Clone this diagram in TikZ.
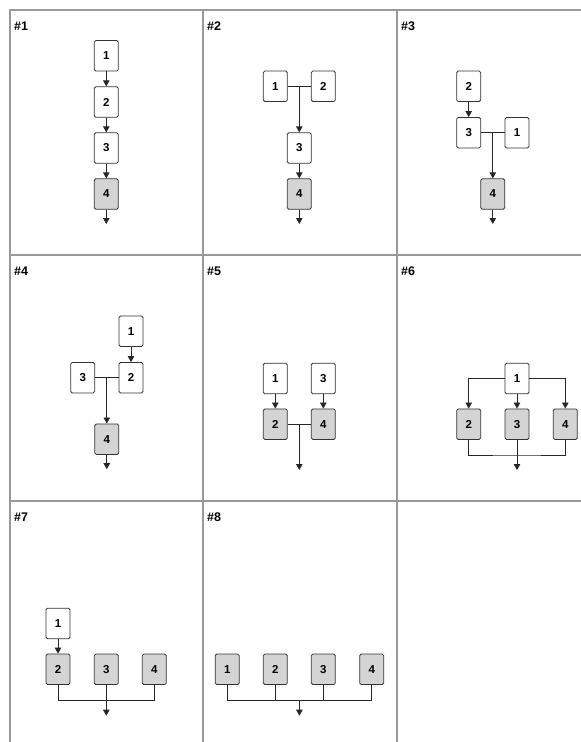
\documentclass[tikz,border=0pt]{standalone}
\usepackage{fontspec}
\setmainfont{Liberation Sans}
\usetikzlibrary{arrows.meta}
\begin{document}
\begin{tikzpicture}[x=1pt,y=-1pt,
  grid/.style={draw=black!40,line width=1.6pt},
  box/.style={draw=black!80,line width=0.8pt,rounded corners=1.5pt,minimum width=24pt,minimum height=30.5pt,inner sep=0pt,fill=white,font=\bfseries\fontsize{11.5}{13}\selectfont},
  sbox/.style={box,fill=black!17},
  conn/.style={draw=black!85,line width=0.8pt},
  arr/.style={conn,-{Triangle[width=6.5pt,length=6pt]}},
  lbl/.style={anchor=west,inner sep=0pt,font=\bfseries\fontsize{12.5}{14}\selectfont}]
\useasboundingbox (0,0) rectangle (581,742);
% grid
\draw[grid] (10,742) -- (10,10) -- (581,10);
\draw[grid] (203,10) -- (203,742);
\draw[grid] (397,10) -- (397,742);
\draw[grid] (10,255) -- (581,255);
\draw[grid] (10,501) -- (581,501);
% labels
\node[lbl] (l1) at (14,26) {\#1};
\node[lbl] (l2) at (207,26) {\#2};
\node[lbl] (l3) at (401,26) {\#3};
\node[lbl] (l4) at (14,271) {\#4};
\node[lbl] (l5) at (207,271) {\#5};
\node[lbl] (l6) at (401,271) {\#6};
\node[lbl] (l7) at (14,517) {\#7};
\node[lbl] (l8) at (207,517) {\#8};
% cell 1
\node[box] (a1) at (106.3,55.8) {1};
\node[box] (a2) at (106.3,102) {2};
\node[box] (a3) at (106.3,148) {3};
\node[sbox] (a4) at (106.3,194) {4};
\coordinate (aout) at (106.3,224);
\draw[arr] (a1) -- (a2);
\draw[arr] (a2) -- (a3);
\draw[arr] (a3) -- (a4);
\draw[arr] (a4) -- (aout);
% cell 2
\node[box] (b1) at (275.3,86.3) {1};
\node[box] (b2) at (323.3,86.3) {2};
\node[box] (b3) at (299.3,148) {3};
\node[sbox] (b4) at (299.3,194) {4};
\coordinate (bj) at (299.3,86.3);
\coordinate (bout) at (299.3,224);
\draw[conn] (b1) -- (b2);
\draw[arr] (bj) -- (b3);
\draw[arr] (b3) -- (b4);
\draw[arr] (b4) -- (bout);
% cell 3
\node[box] (c2) at (468.7,86.3) {2};
\node[box] (c3) at (468.7,132.7) {3};
\node[box] (c1) at (517,132.7) {1};
\node[sbox] (c4) at (492.8,194) {4};
\coordinate (cj) at (492.8,132.7);
\coordinate (cout) at (492.8,224);
\draw[arr] (c2) -- (c3);
\draw[conn] (c3) -- (c1);
\draw[arr] (cj) -- (c4);
\draw[arr] (c4) -- (cout);
% cell 4
\node[box] (d1) at (131,331.3) {1};
\node[box] (d2) at (131,377.7) {2};
\node[box] (d3) at (82.7,377.7) {3};
\node[sbox] (d4) at (106.8,439.2) {4};
\coordinate (dj) at (106.8,377.7);
\coordinate (dout) at (106.8,469.2);
\draw[arr] (d1) -- (d2);
\draw[conn] (d3) -- (d2);
\draw[arr] (dj) -- (d4);
\draw[arr] (d4) -- (dout);
% cell 5
\node[box] (e1) at (275.3,378.5) {1};
\node[box] (e3) at (323.3,378.5) {3};
\node[sbox] (e2) at (275.3,424.2) {2};
\node[sbox] (e4) at (323.3,424.2) {4};
\coordinate (ej) at (299.3,424.2);
\coordinate (eout) at (299.3,470);
\draw[arr] (e1) -- (e2);
\draw[arr] (e3) -- (e4);
\draw[conn] (e2) -- (e4);
\draw[arr] (ej) -- (eout);
% cell 6
\node[box] (f1) at (517,378.5) {1};
\node[sbox] (f2) at (468.7,424.2) {2};
\node[sbox] (f3) at (517,424.2) {3};
\node[sbox] (f4) at (565.3,424.2) {4};
\coordinate (fout) at (517,470);
\draw[arr] (f1.west) -| (f2.north);
\draw[arr] (f1.east) -| (f4.north);
\draw[arr] (f1) -- (f3);
\draw[conn] (f2.south) |- (517,455) -| (f4.south);
\draw[arr] (f3) -- (fout);
% cell 7
\node[box] (g1) at (58,623.5) {1};
\node[sbox] (g2) at (58,669.3) {2};
\node[sbox] (g3) at (106.3,669.3) {3};
\node[sbox] (g4) at (154.3,669.3) {4};
\coordinate (gout) at (106.3,715.7);
\draw[arr] (g1) -- (g2);
\draw[conn] (g2.south) |- (106.3,700.7) -| (g4.south);
\draw[arr] (g3) -- (gout);
% cell 8
\node[sbox] (h1) at (227.2,669.3) {1};
\node[sbox] (h2) at (275.3,669.3) {2};
\node[sbox] (h3) at (323.3,669.3) {3};
\node[sbox] (h4) at (371.7,669.3) {4};
\coordinate (hj) at (299.4,700.7);
\coordinate (hout) at (299.4,715.7);
\draw[conn] (h1.south) |- (hj) -| (h4.south);
\draw[conn] (h2.south) -- (h2.south |- hj);
\draw[conn] (h3.south) -- (h3.south |- hj);
\draw[arr] (hj) -- (hout);
\end{tikzpicture}
\end{document}
